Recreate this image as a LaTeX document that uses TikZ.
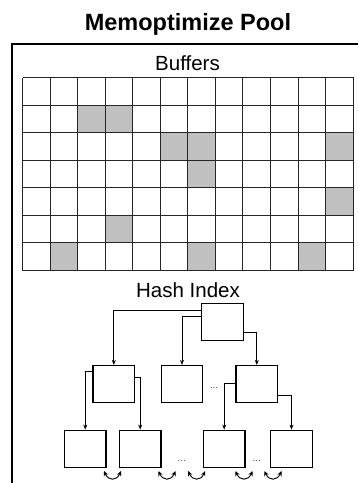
\documentclass[tikz,border=0pt]{standalone}
\usepackage{fontspec}
\setmainfont{Liberation Sans}
\usetikzlibrary{arrows.meta}
\definecolor{cellgray}{RGB}{192,192,192}
\begin{document}
\begin{tikzpicture}[x=1pt,y=-1pt,
  hbox/.style={draw=black,line width=1.2pt,minimum width=41.5pt,minimum height=37pt,inner sep=0pt,fill=white},
  arr/.style={line width=0.8pt,-{Stealth[length=5pt,width=4pt]}},
  swaparr/.style={line width=0.9pt,{Stealth[length=5pt,width=4.5pt]}-{Stealth[length=5pt,width=4.5pt]}},
  gridline/.style={draw=black!85,line width=1.1pt},
  dots/.style={font=\fontsize{10}{10}\selectfont,text=black!70,inner sep=0pt},
  label/.style={anchor=base,inner sep=0pt,font=\fontsize{20.5}{22}\selectfont}
]
\useasboundingbox (0,0) rectangle (358,483);
% titles
\node[anchor=base,inner sep=0pt,font=\bfseries\fontsize{23.5}{25}\selectfont] (title) at (188,30) {Memoptimize Pool};
\node[label] (buffers) at (187.5,70.7) {Buffers};
\node[label] (hashidx) at (188,297.3) {Hash Index};
% outer frame
\draw[line width=1.2pt] (358,44) -- (12,44) -- (12,483);
% grid
\foreach \c/\r in {2/1,3/1,5/2,6/2,11/2,6/3,11/4,3/5,1/6,6/6,10/6} {
  \pgfmathsetmacro{\xa}{22.5+round(\c*27.55)}
  \pgfmathsetmacro{\xb}{22.5+round((\c+1)*27.55)}
  \pgfmathsetmacro{\ya}{77.5+round(\r*27.53)}
  \pgfmathsetmacro{\yb}{77.5+round((\r+1)*27.53)}
  \fill[cellgray] (\xa,\ya) rectangle (\xb,\yb);
}
\foreach \i in {0,...,12} {
  \pgfmathsetmacro{\xa}{22.5+round(\i*27.55)}
  \draw[gridline] (\xa,77.5) -- (\xa,270.5);
}
\foreach \j in {0,...,7} {
  \pgfmathsetmacro{\ya}{77.5+round(\j*27.53)}
  \draw[gridline] (22.5,\ya) -- (353.5,\ya);
}
% hash index tree
\node[hbox] (root) at (222.5,322.2) {};
\node[hbox] (A) at (113.8,384) {};
\node[hbox] (B) at (182,384) {};
\node[hbox] (C) at (256.8,384) {};
\node[hbox] (L1) at (85.3,448.7) {};
\node[hbox] (L2) at (140.2,448.7) {};
\node[hbox] (L3) at (224.2,448.7) {};
\node[hbox] (L4) at (291.5,448.7) {};
\node[dots] (d1) at (214,388) {...};
\node[dots] (d2) at (181.7,461) {...};
\node[dots] (d3) at (256.7,461) {...};
\draw[arr] ([yshift=-7.4pt]root.north west) -| (A.north);
\draw[arr] ([yshift=-13.4pt]root.north west) -| (B.north);
\draw[arr] ([yshift=8.7pt]root.south east) -| (C.north);
\draw[arr] ([yshift=-6pt]A.north west) -| (L1.north);
\draw[arr] ([yshift=-12.6pt]A.north east) -| (L2.north);
\draw[arr] ([yshift=-18.3pt]C.north west) -| (L3.north);
\draw[arr] ([yshift=8pt]C.south east) -| (L4.north);
% swap arrows
\foreach \x [count=\k] in {112.5,167,196.7,244,273} {
  \coordinate (s\k a) at (\x-8.5,471);
  \coordinate (s\k b) at (\x+8.5,471);
  \draw[swaparr] (s\k a) .. controls (\x-4,481) and (\x+4,481) .. (s\k b);
}
\end{tikzpicture}
\end{document}
